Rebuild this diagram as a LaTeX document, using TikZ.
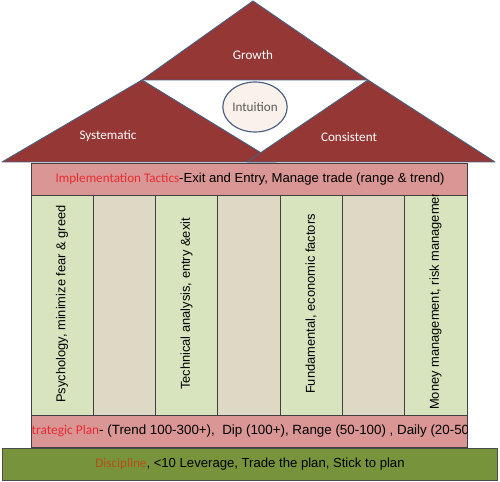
\documentclass[tikz,border=0pt]{standalone}
\usepackage{fontspec}
\setmainfont{Liberation Sans}
\newfontfamily\calfont{Carlito}
\usetikzlibrary{shapes.geometric}
\definecolor{xRoof}{RGB}{149,55,53}
\definecolor{xEdge}{RGB}{74,96,130}
\definecolor{xPink}{RGB}{217,150,148}
\definecolor{xLeaf}{RGB}{215,228,189}
\definecolor{xSand}{RGB}{221,217,196}
\definecolor{xGrass}{RGB}{119,147,60}
\definecolor{xRed}{RGB}{232,44,50}
\definecolor{xRust}{RGB}{185,78,20}
\definecolor{xFoam}{RGB}{250,242,234}
\tikzset{
  roof/.style={fill=xRoof, draw=xEdge, line width=0.8pt, line join=round},
  band/.style={fill=xPink, draw=black!75, line width=0.8pt},
  pillar/.style={draw=black!75, line width=0.8pt},
  base/.style={fill=xGrass, draw=black!70, line width=0.8pt},
  rooftext/.style={font=\calfont\fontsize{11.2}{13}\selectfont, text=white, inner sep=0pt},
  plain/.style={font=\fontsize{11.2}{13}\selectfont, inner sep=0pt},
  upright/.style={font=\fontsize{11}{13}\selectfont, inner sep=0pt, rotate=90},
}
\begin{document}
\begin{tikzpicture}[x=0.03cm, y=-0.03cm]
    \useasboundingbox (0,0) rectangle (500,482);
    % base and bands
    \draw[base] (2,448) rectangle (497,480);
    \draw[band] (31,163) rectangle (467,195);
    \draw[band] (31,415) rectangle (467,447);
    % pillars
    \foreach \i/\c in {0/xLeaf,1/xSand,2/xLeaf,3/xSand,4/xLeaf,5/xSand,6/xLeaf}
      \draw[pillar, fill=\c] ({31+\i*62.3},195) rectangle ({31+(\i+1)*62.3},415);
    % roof
    \draw[roof] (253,1) -- (142,80) -- (368,80) -- cycle;
    \draw[roof] (142,80) -- (2,162) -- (276,162) -- cycle;
    \draw[roof] (368,80) -- (495,162) -- (247,162) -- cycle;
    \node[draw=xEdge, line width=1pt, fill=xFoam, ellipse, minimum width=62*0.03cm, minimum height=50*0.03cm,
          font=\calfont\fontsize{11.2}{13}\selectfont, text=black!65, inner sep=0pt] (intu) at (255,107) {Intuition};
    \node[rooftext] (grow) at (253,55) {Growth};
    \node[rooftext] (syst) at (108,136) {Systematic};
    \node[rooftext] (cons) at (349,137) {Consistent};
    % labels
    \node[plain] (impl) at (250,179) {{\calfont\textcolor{xRed}{Implementation Tactics}}-Exit and Entry, Manage trade (range \& trend)};
    \node[upright] (psy) at (62,304) {Psychology, minimize fear \& greed};
    \node[upright] (tech) at (186.5,304) {Technical analysis, entry \&exit};
    \node[upright] (fund) at (311,304) {Fundamental, economic factors};
    \begin{scope}
      \clip (404,195) rectangle (467,415);
      \node[upright, anchor=west] (money) at (435.5,410) {Money management, risk management};
    \end{scope}
    \begin{scope}
      \clip (31,415) rectangle (467,447);
      \node[plain, anchor=west, font=\fontsize{11.4}{13}\selectfont] (strat) at (31.5,431) {{\calfont\textcolor{xRed}{trategic Plan}}- (Trend 100-300+),\ \ Dip (100+), Range (50-100) , Daily (20-50};
    \end{scope}
    \node[plain] (disc) at (250,464) {{\calfont\textcolor{xRust}{Discipline}}, <10 Leverage, Trade the plan, Stick to plan};
  \end{tikzpicture}
\end{document}
